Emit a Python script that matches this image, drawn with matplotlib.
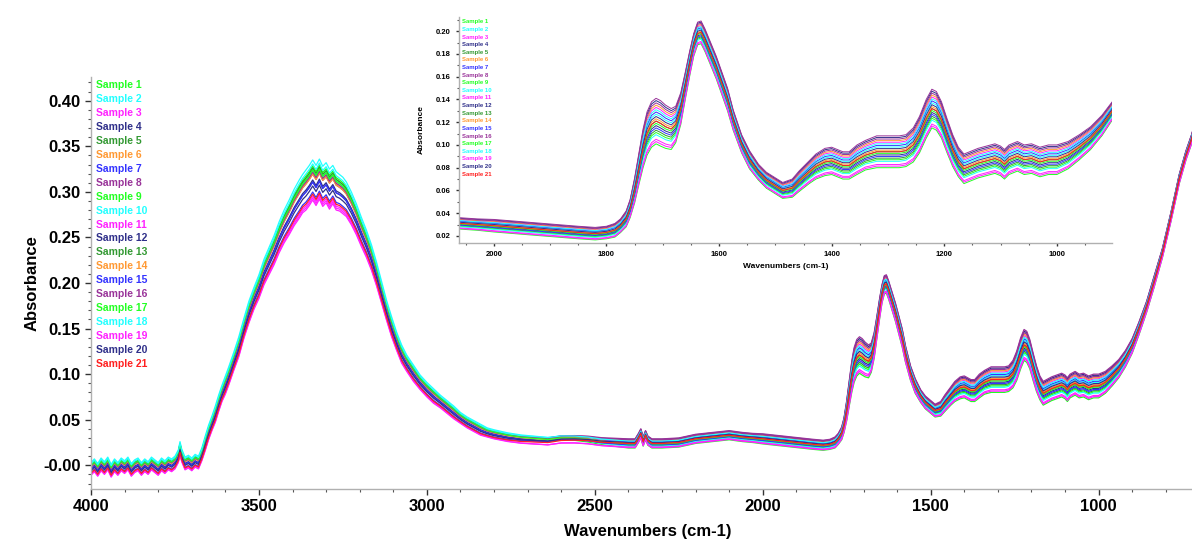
import matplotlib
matplotlib.use("Agg")
import matplotlib.pyplot as plt
import numpy as np
from matplotlib.ticker import MultipleLocator

plt.rcParams['font.family'] = ['Liberation Sans', 'DejaVu Sans']
plt.rcParams['font.weight'] = 'bold'

# centre of the band of spectra (wavenumber cm-1, absorbance)
wavenumbers = [4000, 3990, 3980, 3970, 3960, 3950, 3940, 3930, 3920, 3910, 3900, 3890, 3880,
               3870, 3860, 3850, 3840, 3830, 3820, 3810, 3800, 3790, 3780, 3770, 3760, 3750,
               3740, 3735, 3730, 3720, 3710, 3700, 3690, 3680,
               3670, 3660, 3650, 3640, 3630, 3620, 3610, 3600, 3590, 3575, 3560, 3545, 3530,
               3515, 3500,
               3485, 3470, 3455, 3440, 3425, 3410, 3395, 3380, 3370, 3360, 3350, 3340, 3330,
               3320, 3310, 3300, 3290, 3280, 3270, 3260, 3250, 3240, 3225, 3210,
               3195, 3180, 3165, 3150, 3135, 3120, 3105, 3090, 3075, 3060, 3040, 3020, 3000,
               2980, 2960, 2940, 2920, 2900, 2880, 2860, 2840, 2820, 2800,
               2760, 2720, 2680, 2640, 2600, 2560, 2520, 2480, 2440, 2400, 2380, 2370, 2363,
               2356, 2349, 2342, 2330, 2300, 2250, 2200, 2150, 2100, 2060, 2030,
               2000, 1950, 1900, 1850, 1820, 1800, 1785, 1775, 1765, 1758,
               1750, 1742, 1735, 1728, 1720, 1712, 1704, 1695, 1685, 1677, 1668, 1660,
               1652, 1645, 1638, 1632, 1625, 1615, 1605, 1595, 1585, 1575,
               1560, 1546, 1530, 1516, 1500, 1487, 1470, 1458, 1440, 1428, 1412, 1400,
               1390, 1380, 1369, 1355, 1340, 1320, 1303, 1280, 1268, 1255,
               1244, 1232, 1222, 1214, 1205, 1195, 1185, 1175, 1165,
               1155, 1140, 1125, 1110, 1100, 1093, 1085, 1070, 1058, 1045, 1030, 1015, 1000,
               980, 960, 940, 920, 900, 880, 857, 835, 810, 785, 760, 740, 723, 705]
absorbance = [-0.004, 0.000, -0.005, 0.001, -0.003, 0.002, -0.006, 0.000, -0.004, 0.001, -0.002,
              0.002, -0.005, -0.001, 0.001, -0.004, 0.000, -0.003, 0.002, -0.001, -0.004, 0.001,
              -0.002, 0.002, 0.000, 0.003, 0.010, 0.019, 0.011, 0.002, 0.004, 0.001, 0.005,
              0.003,
              0.012, 0.024, 0.036, 0.046, 0.056, 0.068, 0.079, 0.088, 0.098, 0.114, 0.130,
              0.150, 0.168, 0.183, 0.196,
              0.212, 0.224, 0.236, 0.250, 0.262, 0.272, 0.283, 0.292, 0.298, 0.302, 0.307,
              0.313, 0.307, 0.314, 0.306, 0.310, 0.303, 0.308, 0.301, 0.299, 0.296, 0.292,
              0.282, 0.270,
              0.256, 0.243, 0.228, 0.210, 0.190, 0.170, 0.152, 0.136, 0.122, 0.112, 0.101,
              0.091, 0.083,
              0.076, 0.070, 0.064, 0.058, 0.052, 0.047, 0.043, 0.039, 0.036, 0.034,
              0.031, 0.029, 0.028, 0.027, 0.029, 0.029, 0.028, 0.026, 0.025, 0.024, 0.024,
              0.030, 0.035, 0.026, 0.033, 0.027, 0.024, 0.024, 0.025, 0.029, 0.031, 0.033,
              0.031, 0.030,
              0.029, 0.027, 0.025, 0.023, 0.022, 0.023, 0.025, 0.029, 0.035, 0.044,
              0.060, 0.080, 0.097, 0.110, 0.118, 0.121, 0.119, 0.116, 0.114, 0.118, 0.132,
              0.152,
              0.172, 0.188, 0.198, 0.199, 0.192, 0.180, 0.168, 0.154, 0.140, 0.122,
              0.101, 0.087, 0.076, 0.069, 0.064, 0.060, 0.062, 0.068, 0.076, 0.081, 0.085,
              0.086,
              0.084, 0.082, 0.082, 0.087, 0.091, 0.094, 0.094, 0.094, 0.095, 0.100,
              0.109, 0.123, 0.132, 0.130, 0.122, 0.108, 0.095, 0.085, 0.079,
              0.081, 0.084, 0.086, 0.088, 0.086, 0.083, 0.087, 0.090, 0.087, 0.088, 0.085,
              0.087, 0.087,
              0.091, 0.098, 0.106, 0.117, 0.131, 0.150, 0.174, 0.201, 0.233, 0.272, 0.314,
              0.340, 0.358, 0.382]
# half width of the band of spectra at each wavenumber
spread = ([0.007] * 34
          + [0.007, 0.008, 0.008, 0.008, 0.009, 0.009, 0.009, 0.010, 0.010, 0.010, 0.011,
             0.011, 0.012, 0.012, 0.013]
          + [0.014, 0.015, 0.016, 0.017, 0.018, 0.019, 0.020, 0.021, 0.021, 0.022, 0.022,
             0.022, 0.022, 0.022, 0.022, 0.022, 0.022, 0.021, 0.021, 0.020, 0.020, 0.019,
             0.018, 0.017]
          + [0.016, 0.015, 0.014, 0.013, 0.012, 0.011, 0.011, 0.010, 0.010, 0.009, 0.009,
             0.008, 0.008]
          + [0.008, 0.007, 0.007, 0.007, 0.006, 0.006, 0.006, 0.006, 0.005, 0.005]
          + [0.005] * 24
          + [0.0055, 0.0055, 0.0055, 0.0055, 0.0055, 0.0055, 0.006, 0.006, 0.007, 0.008]
          + [0.011, 0.014, 0.017, 0.019, 0.020, 0.020, 0.020, 0.019, 0.018, 0.016, 0.014,
             0.012]
          + [0.011, 0.010, 0.010, 0.010, 0.010, 0.010, 0.010, 0.010, 0.010, 0.009]
          + [0.008, 0.008, 0.007, 0.007, 0.007, 0.007, 0.008, 0.009, 0.010, 0.011, 0.012,
             0.012]
          + [0.012, 0.012, 0.012, 0.013, 0.013, 0.014, 0.014, 0.014, 0.014, 0.015]
          + [0.016, 0.017, 0.017, 0.017, 0.016, 0.015, 0.014, 0.013, 0.013]
          + [0.013] * 13
          + [0.012, 0.011, 0.010, 0.009, 0.008, 0.007, 0.006, 0.006, 0.005, 0.005, 0.005,
             0.005, 0.005, 0.005])

samples = ['Sample %d' % i for i in range(1, 22)]
colors = ['#22ff22', '#22ffff', '#ff22ff', '#30308a', '#339933', '#ff9933', '#3333ff', '#993399',
          '#22ff22', '#22ffff', '#ff22ff', '#30308a', '#339933', '#ff9933', '#3333ff', '#993399',
          '#22ff22', '#22ffff', '#ff22ff', '#30308a', '#ff2020']
# where each sample sits in the band (-1 bottom, +1 top): O-H region, then fingerprint region
pos_oh = [0.7, 1.0, -0.8, -0.1, 0.5, 0.4, -0.6, 0.3, 0.6, 0.5, -1.0,
          0.0, 0.6, 0.3, -0.1, 0.4, 0.5, 0.8, -0.9, -0.3, -0.7]
pos_fp = [-1.0, 0.3, 0.6, 0.9, -0.4, 0.7, 0.4, 1.0, -0.5, -0.6, -0.8,
          -0.2, 0.0, 0.1, -0.3, 0.8, -0.1, 0.5, -0.9, 0.2, 0.0]

main_yticks = [0.0, 0.05, 0.10, 0.15, 0.20, 0.25, 0.30, 0.35, 0.40]
main_yticklabels = ['-0.00', '0.05', '0.10', '0.15', '0.20', '0.25', '0.30', '0.35', '0.40']


def sample_curve(i):
    wn = np.array(wavenumbers, dtype=float)
    w = np.interp(wn, [2400, 2800], [0, 1])
    p = pos_fp[i] + (pos_oh[i] - pos_fp[i]) * w
    return wn, np.array(absorbance) + p * np.array(spread)


def style_axes(ax, labelsize, major, minor):
    for side in ['top', 'right']:
        ax.spines[side].set_visible(False)
    for side in ['left', 'bottom']:
        ax.spines[side].set_color('#b0b0b0')
        ax.spines[side].set_linewidth(1.0)
    ax.tick_params(which='major', direction='out', length=major, width=1.0,
                   color='#333333', labelsize=labelsize)
    ax.tick_params(which='minor', direction='out', length=minor, width=0.8, color='#555555')
    for lab in ax.get_xticklabels() + ax.get_yticklabels():
        lab.set_fontweight('bold')


def main():
    assert len(wavenumbers) == len(absorbance) == len(spread)
    W, H = 1192, 541
    fig = plt.figure(figsize=(W / 100, H / 100), dpi=100)

    # main plot
    ax = fig.add_axes([91 / W, 52 / H, (W - 91) / W, 412 / H])
    for i in range(len(samples)):
        x, y = sample_curve(i)
        ax.plot(x, y, color=colors[i], lw=0.9)
    ax.set_xlim(4000, 722)
    ax.set_ylim(-0.026, 0.426)
    ax.xaxis.set_major_locator(MultipleLocator(500))
    ax.xaxis.set_minor_locator(MultipleLocator(100))
    ax.set_yticks(main_yticks)
    ax.set_yticklabels(main_yticklabels)
    ax.yaxis.set_minor_locator(MultipleLocator(0.01))
    style_axes(ax, 12, 4, 2.5)
    ax.set_xlabel('Wavenumbers (cm-1)', fontsize=12, fontweight='bold')
    ax.xaxis.set_label_coords(0.506, -0.085)
    ax.set_ylabel('Absorbance', fontsize=12, fontweight='bold')
    ax.yaxis.set_label_coords(-0.047, 0.5)

    for i, name in enumerate(samples):
        fig.text(96 / W, 1 - (85 + i * 13.95) / H, name, color=colors[i],
                 fontsize=7.5, fontweight='bold', va='center', ha='left')

    # inset zoom on the fingerprint region
    ins = fig.add_axes([459 / W, (H - 243) / H, 653 / W, 226 / H])
    ins.patch.set_alpha(0)
    for i in range(len(samples)):
        x, y = sample_curve(i)
        ins.plot(x, y, color=colors[i], lw=0.7)
    ins.set_xlim(2062, 902)
    ins.set_ylim(0.0138, 0.2125)
    ins.xaxis.set_major_locator(MultipleLocator(200))
    ins.xaxis.set_minor_locator(MultipleLocator(50))
    ins.yaxis.set_major_locator(MultipleLocator(0.02))
    ins.yaxis.set_minor_locator(MultipleLocator(0.01))
    ins.yaxis.set_major_formatter(plt.FormatStrFormatter('%.2f'))
    style_axes(ins, 5.5, 2.5, 1.5)
    ins.set_xlabel('Wavenumbers (cm-1)', fontsize=6, fontweight='bold', labelpad=3)
    ins.set_ylabel('Absorbance', fontsize=6, fontweight='bold', labelpad=8)

    for i, name in enumerate(samples):
        fig.text(462 / W, 1 - (22 + i * 7.6) / H, name, color=colors[i],
                 fontsize=4.3, fontweight='bold', va='center', ha='left')

    fig.savefig('out.png', dpi=100)


if __name__ == '__main__':
    main()
